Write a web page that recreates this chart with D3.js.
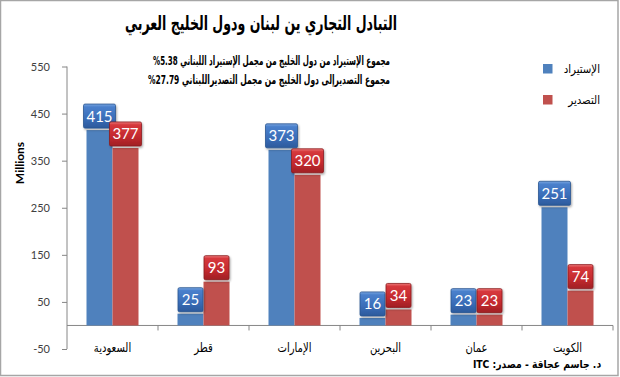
<!DOCTYPE html>
<html>
<head>
<meta charset="utf-8">
<script src="https://d3js.org/d3.v7.min.js"></script>
<style>
  body { margin: 0; background: #fff; }
  svg { display: block; }
  .axis path, .axis line { stroke: #868686; }
  .y.axis text { font-family: Lato, sans-serif; font-size: 11px; fill: #404040; }
  .ar { font-family: "DejaVu Sans", sans-serif; direction: rtl; }
</style>
</head>
<body>
<script>
// data
const categories = ["السعودية", "قطر", "الإمارات", "البحرين", "عمان", "الكويت"];
const imports = [415, 25, 373, 16, 23, 251];
const exports = [377, 93, 320, 34, 23, 74];
const seriesNames = ["الإستيراد", "التصدير"];
const yTicks = [-50, 50, 150, 250, 350, 450, 550];

const width = 620, height = 377;
const colors = {imp: "#4f81bd", exp: "#c0504d"};

const svg = d3.select("body").append("svg")
    .attr("width", width)
    .attr("height", height);

const defs = svg.append("defs");

function grad(id, stops) {
  const g = defs.append("linearGradient").attr("id", id)
      .attr("x1", 0).attr("y1", 0).attr("x2", 0).attr("y2", 1);
  stops.forEach(s => g.append("stop").attr("offset", s[0]).attr("stop-color", s[1]));
}
grad("boxBlue", [[0, "#7aa6e0"], [0.12, "#4a80cc"], [0.6, "#3a6db8"], [1, "#2c5a9c"]]);
grad("boxRed", [[0, "#ec7a7a"], [0.12, "#d6383c"], [0.6, "#c42a2f"], [1, "#a01f24"]]);

defs.append("filter").attr("id", "shadow")
    .attr("x", "-20%").attr("y", "-20%").attr("width", "150%").attr("height", "150%")
  .append("feDropShadow")
    .attr("dx", 1).attr("dy", 1.5).attr("stdDeviation", 1)
    .attr("flood-color", "#000").attr("flood-opacity", 0.35);

// squeeze arabic text horizontally (the original font is much narrower than DejaVu)
function squeeze(sel, factor) {
  sel.each(function() {
    const w = this.getComputedTextLength();
    d3.select(this).attr("textLength", w * factor).attr("lengthAdjust", "spacingAndGlyphs");
  });
}

// outer frame
svg.append("rect")
    .attr("x", 0.5).attr("y", 0.5)
    .attr("width", width - 2.5).attr("height", height - 2)
    .attr("fill", "none").attr("stroke", "#a6a6a6").attr("stroke-width", 1.5);

const plot = {left: 67, right: 613, top: 66.5, bottom: 349};

const y = d3.scaleLinear()
    .domain([-50, 550])
    .range([plot.bottom, plot.top]);

const x = d3.scaleBand()
    .domain(categories)
    .range([plot.left, plot.right]);

const xs = d3.scaleBand()
    .domain(["imp", "exp"])
    .range([0, x.bandwidth()])
    .paddingOuter(0.75);

// y axis
svg.append("g")
    .attr("class", "y axis")
    .attr("transform", `translate(${plot.left},0)`)
    .call(d3.axisLeft(y).tickValues(yTicks).tickFormat(d => String(d))
      .tickSize(5).tickPadding(12).tickSizeOuter(0))
    .call(g => g.select(".domain").attr("d", `M0,${plot.top}V${plot.bottom}`));

// x axis at zero
const xg = svg.append("g")
    .attr("class", "x axis")
    .attr("transform", `translate(0,${y(0)})`);
xg.append("line")
    .attr("x1", plot.left).attr("x2", plot.right)
    .attr("stroke", "#868686");
xg.selectAll(".cat-tick")
  .data(categories)
  .enter().append("line")
    .attr("x1", d => x(d) + x.bandwidth()).attr("x2", d => x(d) + x.bandwidth())
    .attr("y1", 0).attr("y2", 5)
    .attr("stroke", "#868686");

svg.selectAll(".cat-label")
  .data(categories)
  .enter().append("text")
    .attr("class", "ar")
    .attr("x", d => x(d) + x.bandwidth() / 2)
    .attr("y", 352)
    .attr("text-anchor", "middle")
    .attr("font-size", 12.5)
    .attr("fill", "#000")
    .text(d => d)
    .call(squeeze, 0.8);

const rows = categories.map((c, i) => ({cat: c, imp: imports[i], exp: exports[i]}));
const flat = [];
rows.forEach(r => {
  flat.push({cat: r.cat, key: "imp", v: r.imp});
  flat.push({cat: r.cat, key: "exp", v: r.exp});
});

// bars
svg.selectAll(".bar")
  .data(flat)
  .enter().append("rect")
    .attr("x", d => x(d.cat) + xs(d.key))
    .attr("y", d => y(d.v))
    .attr("width", xs.bandwidth())
    .attr("height", d => y(0) - y(d.v))
    .attr("fill", d => colors[d.key]);

// value boxes
const lab = svg.selectAll(".lab")
  .data(flat)
  .enter().append("g")
    .attr("transform", d => `translate(${x(d.cat) + xs(d.key) + xs.bandwidth() / 2},${y(d.v) - 2})`);

lab.append("rect")
    .attr("x", d => -(String(d.v).length === 3 ? 16 : 12.5))
    .attr("y", -24)
    .attr("width", d => String(d.v).length === 3 ? 32 : 25)
    .attr("height", 24)
    .attr("rx", 1.5)
    .attr("fill", d => d.key === "imp" ? "url(#boxBlue)" : "url(#boxRed)")
    .attr("stroke", d => d.key === "imp" ? "#2a5690" : "#8c1c20")
    .attr("stroke-width", 0.8)
    .attr("filter", "url(#shadow)");

lab.append("text")
    .attr("y", -6.5)
    .attr("text-anchor", "middle")
    .attr("font-family", "Lato, sans-serif")
    .attr("font-size", 15)
    .attr("fill", "#fff")
    .text(d => d.v);

// title and notes
svg.append("text")
    .attr("class", "ar")
    .attr("x", 261).attr("y", 30)
    .attr("text-anchor", "middle")
    .attr("font-size", 20).attr("font-weight", "bold")
    .attr("textLength", 272).attr("lengthAdjust", "spacingAndGlyphs")
    .text("التبادل التجاري ين لبنان ودول الخليج العربي");

svg.append("text")
    .attr("class", "ar")
    .attr("x", 271.5).attr("y", 65)
    .attr("text-anchor", "middle")
    .attr("font-size", 12.5).attr("font-weight", "bold")
    .attr("textLength", 237).attr("lengthAdjust", "spacingAndGlyphs")
    .text("مجموع الإستيراد من دول الخليج من مجمل الإستيراد اللبناني \u2066%5.38\u2069");

svg.append("text")
    .attr("class", "ar")
    .attr("x", 269).attr("y", 84)
    .attr("text-anchor", "middle")
    .attr("font-size", 12.5).attr("font-weight", "bold")
    .attr("textLength", 242).attr("lengthAdjust", "spacingAndGlyphs")
    .text("مجموع التصديرإلى دول الخليج من مجمل التصديراللبناني  \u2066%27.79\u2069");

// y axis title
svg.append("text")
    .attr("transform", "translate(24,163) rotate(-90)")
    .attr("text-anchor", "middle")
    .attr("font-family", "Lato, sans-serif")
    .attr("font-size", 12).attr("font-weight", "bold")
    .text("Millions");

// legend
const leg = svg.selectAll(".leg")
  .data(["imp", "exp"])
  .enter().append("g")
    .attr("transform", (d, i) => `translate(543,${64 + i * 31})`);
leg.append("rect")
    .attr("width", 9.5).attr("height", 9.5)
    .attr("fill", d => colors[d]);
leg.append("text")
    .attr("class", "ar")
    .attr("x", 57).attr("y", 9)
    .attr("text-anchor", "start")
    .attr("font-size", 12)
    .text((d, i) => seriesNames[i])
    .call(squeeze, 0.85);

// source
svg.append("text")
    .attr("class", "ar")
    .attr("transform", "translate(537,368) scale(0.84,1)")
    .attr("text-anchor", "middle")
    .attr("font-size", 11).attr("font-weight", "bold")
    .text("د. جاسم عجاقة - مصدر: ITC");
</script>
</body>
</html>
